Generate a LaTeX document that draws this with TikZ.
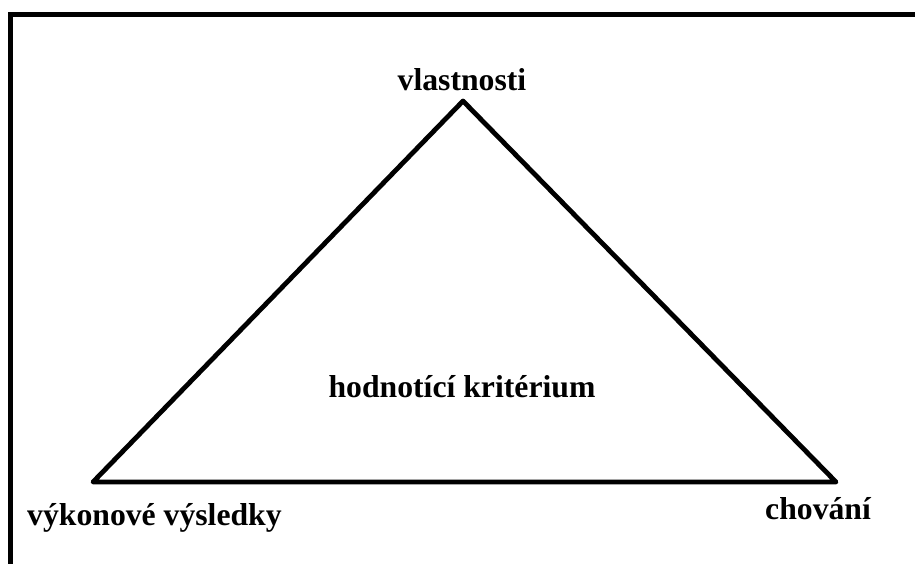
\documentclass[tikz,border=0pt]{standalone}
\usepackage{fontspec}
\setmainfont{Liberation Serif}
\begin{document}
\begin{tikzpicture}[x=1pt,y=-1pt,
  lbl/.style={inner sep=0pt, font=\fontsize{31.7}{36}\selectfont\bfseries},
  frame/.style={line width=5.5pt, line join=miter},
  tri/.style={line width=4.8pt, line join=round}]
\useasboundingbox (0,0) rectangle (915,563);
% open frame (left and top edges)
\draw[frame] (10.5,600) -- (10.5,14.5) -- (960,14.5);
% triangle corners
\coordinate (top) at (463,101);
\coordinate (left) at (93,482);
\coordinate (right) at (836,482);
\draw[tri] (top) -- (right) -- (left) -- cycle;
% labels
\node[lbl, anchor=base] (vl) at (462,90) {vlastnosti};
\node[lbl, anchor=base] (hk) at (462,397) {hodnotící kritérium};
\node[lbl, anchor=base west] (vv) at (27,525) {výkonové výsledky};
\node[lbl, anchor=base west] (ch) at (765,519) {chování};
\end{tikzpicture}
\end{document}
